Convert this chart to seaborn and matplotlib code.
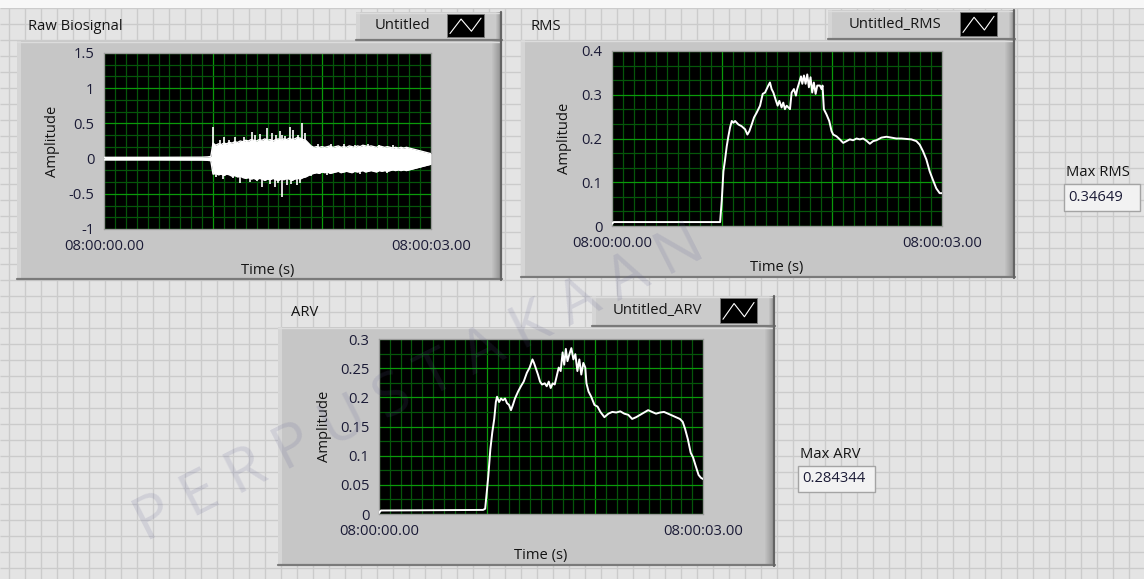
import numpy as np
import matplotlib
matplotlib.use("Agg")
import matplotlib.pyplot as plt
from matplotlib.patches import Rectangle
from matplotlib.colors import to_rgb
import seaborn as sns

# ---------------- data ----------------
# Raw EMG: resting baseline band, then upper/lower envelope of the burst (s, amplitude)
raw_rest_t = [0.00, 0.50, 0.90, 0.95, 0.98]
raw_rest_hi = [0.018, 0.018, 0.02, 0.024, 0.03]
raw_rest_lo = [-0.018, -0.018, -0.02, -0.024, -0.03]

raw_burst_t = np.round(np.arange(1.0, 3.0001, 0.025), 3)
raw_burst_hi = [0.22, 0.19, 0.21, 0.20, 0.22, 0.21, 0.23, 0.22, 0.24, 0.23,
                0.25, 0.24, 0.26, 0.25, 0.27, 0.26, 0.25, 0.27, 0.26, 0.28,
                0.26, 0.27, 0.25, 0.27, 0.28, 0.26, 0.28, 0.27, 0.29, 0.27,
                0.28, 0.30, 0.29, 0.27, 0.26, 0.22, 0.18, 0.16, 0.17, 0.16,
                0.17, 0.16, 0.17, 0.18, 0.16, 0.17, 0.18, 0.16, 0.17, 0.16,
                0.18, 0.17, 0.16, 0.18, 0.17, 0.19, 0.18, 0.17, 0.18, 0.17,
                0.16, 0.18, 0.17, 0.16, 0.17, 0.16, 0.15, 0.16, 0.15, 0.16,
                0.15, 0.16, 0.15, 0.14, 0.13, 0.12, 0.11, 0.10, 0.09, 0.08,
                0.07]
raw_burst_lo = [-0.22, -0.21, -0.23, -0.22, -0.24, -0.22, -0.23, -0.25, -0.24, -0.26,
                -0.25, -0.27, -0.28, -0.27, -0.29, -0.28, -0.30, -0.28, -0.29, -0.31,
                -0.29, -0.30, -0.28, -0.30, -0.31, -0.29, -0.30, -0.28, -0.29, -0.31,
                -0.29, -0.28, -0.29, -0.27, -0.26, -0.24, -0.22, -0.21, -0.20, -0.21,
                -0.19, -0.20, -0.19, -0.21, -0.20, -0.19, -0.18, -0.20, -0.19, -0.18,
                -0.19, -0.20, -0.18, -0.19, -0.18, -0.17, -0.19, -0.18, -0.17, -0.18,
                -0.19, -0.17, -0.18, -0.17, -0.18, -0.17, -0.16, -0.17, -0.16, -0.17,
                -0.16, -0.17, -0.16, -0.15, -0.14, -0.13, -0.12, -0.11, -0.10, -0.09,
                -0.08]

# Isolated spikes sticking out of the envelope
raw_spike_t = [1.000, 1.060, 1.100, 1.150, 1.200, 1.280, 1.355, 1.385, 1.430, 1.492,
               1.538, 1.580, 1.615, 1.630, 1.660, 1.706, 1.737, 1.780, 1.813, 1.844,
               1.960, 2.080, 2.200, 2.300, 2.420, 2.520, 2.650,
               1.030, 1.095, 1.180, 1.250, 1.340, 1.400, 1.446, 1.520, 1.569, 1.600,
               1.630, 1.676, 1.720, 1.767, 1.798, 1.900, 2.050, 2.350, 2.600]
raw_spike_v = [0.45, 0.26, 0.30, 0.27, 0.31, 0.30, 0.38, 0.33, 0.35, 0.43,
               0.36, 0.34, 0.39, 0.33, 0.32, 0.45, 0.40, 0.34, 0.50, 0.36,
               0.21, 0.21, 0.21, 0.20, 0.21, 0.20, 0.19,
               -0.26, -0.29, -0.28, -0.34, -0.33, -0.32, -0.40, -0.36, -0.40, -0.34,
               -0.54, -0.38, -0.36, -0.38, -0.35, -0.25, -0.23, -0.22, -0.21]

# RMS envelope
rms_t = [0.000, 0.015, 0.983, 0.998, 1.013, 1.028, 1.043, 1.058, 1.073, 1.089,
         1.104, 1.119, 1.149, 1.179, 1.210, 1.231, 1.249, 1.270, 1.291, 1.315,
         1.346, 1.370, 1.391, 1.421, 1.436, 1.451, 1.467, 1.491, 1.506, 1.521,
         1.542, 1.557, 1.572, 1.588, 1.603, 1.618, 1.633, 1.654, 1.672, 1.684,
         1.702, 1.718, 1.730, 1.745, 1.760, 1.775, 1.790, 1.805, 1.820, 1.835,
         1.851, 1.866, 1.890, 1.905, 1.914, 1.926, 1.950, 1.975, 1.996, 2.011,
         2.041, 2.071, 2.102, 2.132, 2.162, 2.192, 2.223, 2.253, 2.283, 2.313,
         2.344, 2.374, 2.404, 2.449, 2.495, 2.540, 2.585, 2.631, 2.676, 2.721,
         2.767, 2.797, 2.827, 2.858, 2.888, 2.918, 2.948, 2.979, 3.000]
rms_v = [0.005, 0.009, 0.009, 0.059, 0.125, 0.152, 0.182, 0.205, 0.225, 0.240,
         0.236, 0.240, 0.232, 0.228, 0.221, 0.209, 0.217, 0.232, 0.248, 0.259,
         0.275, 0.302, 0.305, 0.321, 0.328, 0.313, 0.305, 0.286, 0.275, 0.286,
         0.271, 0.282, 0.267, 0.275, 0.271, 0.267, 0.305, 0.313, 0.298, 0.313,
         0.328, 0.342, 0.325, 0.344, 0.325, 0.34649, 0.317, 0.340, 0.305, 0.328,
         0.302, 0.321, 0.321, 0.313, 0.321, 0.267, 0.255, 0.240, 0.217, 0.209,
         0.205, 0.198, 0.190, 0.194, 0.198, 0.196, 0.200, 0.198, 0.200, 0.195,
         0.188, 0.194, 0.196, 0.202, 0.204, 0.202, 0.200, 0.200, 0.199, 0.198,
         0.194, 0.186, 0.171, 0.152, 0.125, 0.105, 0.086, 0.075, 0.075]

# ARV envelope
arv_t = [0.000, 0.018, 0.964, 0.983, 0.994, 1.012, 1.031, 1.049, 1.067, 1.082,
         1.093, 1.112, 1.130, 1.148, 1.167, 1.185, 1.204, 1.222, 1.240, 1.259,
         1.288, 1.314, 1.340, 1.369, 1.395, 1.421, 1.435, 1.450, 1.472, 1.491,
         1.509, 1.535, 1.553, 1.572, 1.590, 1.608, 1.627, 1.645, 1.664, 1.682,
         1.700, 1.715, 1.730, 1.745, 1.763, 1.781, 1.800, 1.818, 1.837, 1.855,
         1.873, 1.892, 1.910, 1.921, 1.940, 1.965, 1.995, 2.024, 2.050, 2.087,
         2.124, 2.160, 2.197, 2.234, 2.271, 2.308, 2.344, 2.381, 2.418, 2.455,
         2.492, 2.528, 2.565, 2.602, 2.639, 2.676, 2.713, 2.749, 2.786, 2.812,
         2.834, 2.860, 2.886, 2.908, 2.933, 2.959, 2.981, 3.000]
arv_v = [0.002, 0.006, 0.007, 0.009, 0.030, 0.065, 0.111, 0.140, 0.163, 0.192,
         0.201, 0.192, 0.198, 0.195, 0.198, 0.190, 0.187, 0.178, 0.187, 0.198,
         0.210, 0.219, 0.227, 0.242, 0.251, 0.265, 0.259, 0.251, 0.239, 0.227,
         0.222, 0.224, 0.219, 0.227, 0.216, 0.224, 0.222, 0.236, 0.251, 0.245,
         0.277, 0.256, 0.283, 0.262, 0.274, 0.284344, 0.265, 0.274, 0.245, 0.265,
         0.239, 0.259, 0.251, 0.224, 0.210, 0.201, 0.187, 0.184, 0.175, 0.166,
         0.172, 0.175, 0.174, 0.176, 0.172, 0.170, 0.163, 0.166, 0.170, 0.174,
         0.178, 0.175, 0.172, 0.174, 0.175, 0.172, 0.169, 0.166, 0.163, 0.158,
         0.146, 0.128, 0.105, 0.097, 0.082, 0.067, 0.062, 0.060]

time_labels = ["08:00:00.00", "08:00:03.00"]
raw_yticks = [-1, -0.5, 0, 0.5, 1, 1.5]
rms_yticks = [0, 0.1, 0.2, 0.3, 0.4]
arv_yticks = [0, 0.05, 0.1, 0.15, 0.2, 0.25, 0.3]

# ---------------- styling ----------------
sns.set_style("white")
plt.rcParams["font.family"] = ["Open Sans", "DejaVu Sans"]
FS = 10.6
TXT = "#141414"
TICK_TXT = "#1b1b36"
MAJOR_G = "#0a9a0a"
MINOR_G = "#05560a"

W, H = 1144, 579
fig = plt.figure(figsize=(W / 100, H / 100), dpi=100)
fig.patch.set_facecolor("#e4e4e4")

bg = fig.add_axes([0, 0, 1, 1])
bg.set_xlim(0, W)
bg.set_ylim(H, 0)
bg.axis("off")

# front-panel alignment grid
bg.add_patch(Rectangle((0, 0), W, H, facecolor="#e4e4e4", edgecolor="none", zorder=0))
bg.vlines(np.arange(8.5, W, 16), 0, H, color="#cbcbcb", lw=1.0, zorder=1)
bg.hlines(np.arange(8, H, 16), 0, W, color="#cbcbcb", lw=1.0, zorder=1)
bg.add_patch(Rectangle((0, 0), W, 7.5, facecolor="#f7f7f7", edgecolor="none", zorder=1))


def raised(x0, y0, x1, y1, face="#c6c6c6", shade_w=10, z=2):
    bg.add_patch(Rectangle((x0, y0), x1 - x0, y1 - y0, facecolor=face,
                           edgecolor="none", zorder=z))
    c0 = np.array(to_rgb(face))
    c1 = np.array(to_rgb("#8e8e8e"))
    for i in range(shade_w):
        f = (i + 1) / shade_w
        bg.add_patch(Rectangle((x1 - shade_w + i, y0), 1.05, y1 - y0,
                               facecolor=c0 * (1 - f) + c1 * f, edgecolor="none",
                               zorder=z))
    bg.add_patch(Rectangle((x0, y0), 4, y1 - y0, facecolor="#d5d5d5",
                           edgecolor="none", zorder=z))
    bg.plot([x0, x1 - 1], [y0 + 0.5, y0 + 0.5], color="#dcdcdc", lw=1.0, zorder=z + 0.1)
    bg.plot([x0, x1], [y1 - 1, y1 - 1], color="#7a7a7a", lw=1.6, zorder=z + 0.1)
    bg.plot([x1 - 1, x1 - 1], [y0, y1], color="#646464", lw=1.6, zorder=z + 0.1)


def plot_legend(x0, y0, x1, y1, name):
    raised(x0, y0, x1, y1, face="#cbcbcb", shade_w=6, z=4)
    ix1 = x1 - 18
    ix0 = ix1 - 37
    iy0, iy1 = y0 + 2, y1 - 4
    bg.add_patch(Rectangle((ix0, iy0), ix1 - ix0, iy1 - iy0, facecolor="black",
                           edgecolor="#7a7a7a", lw=0.6, zorder=5))
    w, h = ix1 - ix0, iy1 - iy0
    bg.plot([ix0 + 0.08 * w, ix0 + 0.38 * w, ix0 + 0.66 * w, ix0 + 0.92 * w],
            [iy0 + 0.85 * h, iy0 + 0.22 * h, iy0 + 0.75 * h, iy0 + 0.18 * h],
            color="white", lw=0.8, zorder=6)
    bg.text((x0 + ix0) / 2 + 1, (y0 + y1) / 2 - 1, name, ha="center", va="center",
            fontsize=FS, color=TXT, zorder=6)


def indicator(x0, y0, x1, y1, label, value):
    bg.text(x0 + 2, y0 - 12, label, ha="left", va="center", fontsize=FS,
            color=TXT, zorder=6)
    bg.add_patch(Rectangle((x0, y0), x1 - x0, y1 - y0, facecolor="#f2f2f2",
                           edgecolor="#a4a4a4", lw=1.0, zorder=5))
    bg.text(x0 + 4, (y0 + y1) / 2, value, ha="left", va="center", fontsize=FS,
            color=TICK_TXT, zorder=6)


def px_axes(x0, y0, x1, y1):
    return fig.add_axes([x0 / W, 1 - y1 / H, (x1 - x0) / W, (y1 - y0) / H])


def style_chart(ax, box, ylim, yticks, minor_step, ylab_dx):
    x0, y0, x1, y1 = box
    wpx, hpx = x1 - x0, y1 - y0
    ax.set_facecolor("black")
    ax.set_xlim(0, 3)
    ax.set_ylim(*ylim)
    ax.set_xticks([0, 1, 2, 3])
    ax.set_xticklabels([time_labels[0], "", "", time_labels[1]])
    ax.set_xticks(np.round(np.arange(0, 3.0001, 0.1), 2), minor=True)
    ax.set_yticks(yticks)
    ax.set_yticklabels([f"{v:g}" for v in yticks])
    ax.set_yticks(np.arange(ylim[0], ylim[1] + 1e-9, minor_step), minor=True)
    ax.set_axisbelow(True)
    ax.grid(which="minor", color=MINOR_G, lw=0.9)
    ax.grid(which="major", color=MAJOR_G, lw=0.9)
    ax.tick_params(which="minor", length=0)
    ax.tick_params(which="major", direction="out", length=4.5, width=0.8,
                   color="#2a2a2a", labelsize=FS, labelcolor=TICK_TXT, pad=2.5)
    ticks = ax.xaxis.get_major_ticks()
    for k in (1, 2):
        ticks[k].tick1line.set_visible(False)
    for s in ax.spines.values():
        s.set_color("#9a9a9a")
        s.set_linewidth(0.9)
    ax.set_xlabel("Time (s)", fontsize=FS, color=TXT, va="center")
    ax.xaxis.set_label_coords(0.5, -42 / hpx)
    ax.set_ylabel("Amplitude", fontsize=FS, color=TXT, va="center")
    ax.yaxis.set_label_coords(-ylab_dx / wpx, 0.5)


# ---------------- panels ----------------
raised(17, 41, 502, 280)
raised(521, 40, 1015, 278)
raised(278, 327, 775, 566)

plot_legend(356, 12, 502, 41, "Untitled")
plot_legend(828, 10, 1015, 40, "Untitled_RMS")
plot_legend(592, 296, 775, 327, "Untitled_ARV")

bg.text(28, 27, "Raw Biosignal", ha="left", va="center", fontsize=FS, color=TXT, zorder=6)
bg.text(530, 26, "RMS", ha="left", va="center", fontsize=FS, color=TXT, zorder=6)
bg.text(291, 312, "ARV", ha="left", va="center", fontsize=FS, color=TXT, zorder=6)

indicator(1064, 184, 1140, 211, "Max RMS", f"{max(rms_v):.5f}")
indicator(798, 466, 875, 492, "Max ARV", f"{max(arv_v):.6f}")

# Raw biosignal
box_raw = (104, 53, 431, 229)
ax_raw = px_axes(*box_raw)
env_t = np.concatenate([raw_rest_t, raw_burst_t])
env_hi = np.concatenate([raw_rest_hi, raw_burst_hi])
env_lo = np.concatenate([raw_rest_lo, raw_burst_lo])
ax_raw.fill_between(env_t, env_lo, env_hi, color="white", lw=0, zorder=3)
sns.lineplot(x=env_t, y=env_hi, ax=ax_raw, color="white", lw=1.0,
             estimator=None, legend=False, zorder=3)
sns.lineplot(x=env_t, y=env_lo, ax=ax_raw, color="white", lw=1.0,
             estimator=None, legend=False, zorder=3)
ax_raw.vlines(raw_spike_t, 0, raw_spike_v, color="white", lw=1.2, zorder=3)
style_chart(ax_raw, box_raw, (-1, 1.5), raw_yticks, 0.5 / 3, 52)

# RMS
box_rms = (612, 51, 942, 226)
ax_rms = px_axes(*box_rms)
sns.lineplot(x=rms_t, y=rms_v, ax=ax_rms, color="white", lw=1.4,
             estimator=None, legend=False, zorder=3)
style_chart(ax_rms, box_rms, (0, 0.4), rms_yticks, 0.1 / 3, 47)

# ARV
box_arv = (379, 339, 703, 514)
ax_arv = px_axes(*box_arv)
sns.lineplot(x=arv_t, y=arv_v, ax=ax_arv, color="white", lw=1.4,
             estimator=None, legend=False, zorder=3)
style_chart(ax_arv, box_arv, (0, 0.3), arv_yticks, 0.025, 54)

# faint library watermark laid over the panel
fig.text(420 / W, 1 - 385 / H, "P E R P U S T A K A A N", rotation=27,
         fontsize=44, color="#5c5c90", alpha=0.15, ha="center", va="center",
         zorder=50)

fig.savefig("out.png", dpi=100)
